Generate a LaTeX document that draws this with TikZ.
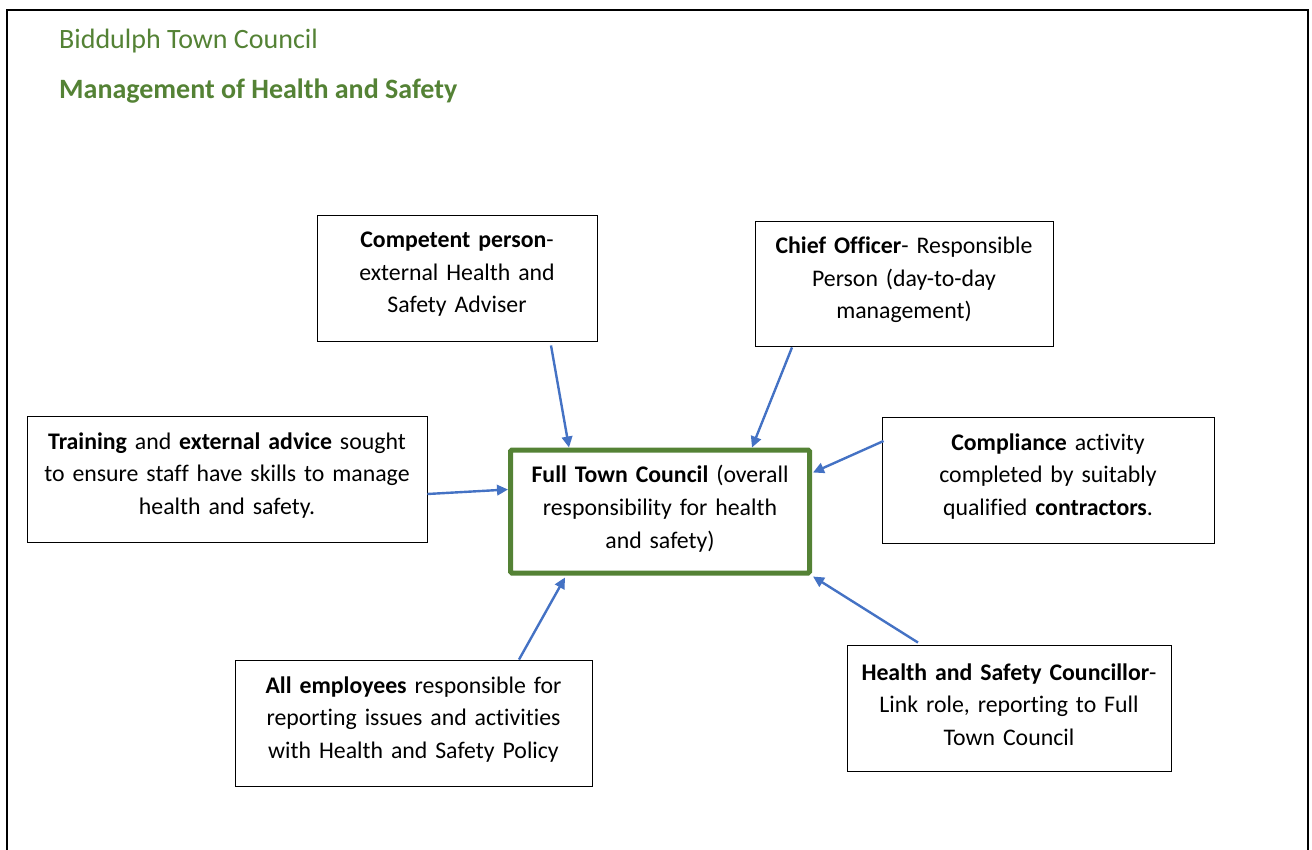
\documentclass[tikz,border=0pt]{standalone}
\usepackage{fontspec}
\setmainfont{Carlito}[Ligatures=NoCommon]
\usetikzlibrary{arrows.meta}
\definecolor{LeafGreen}{RGB}{84,130,53}
\definecolor{LinkBlue}{RGB}{68,114,196}
\tikzset{
  role/.style={draw=black,line width=0.9pt,fill=white,align=center,
    inner sep=0pt,font=\fontsize{23.8}{32.5}\selectfont,
    execute at end node={\par\vspace*{7pt}}},
  council/.style={draw=LeafGreen,line width=5pt,rounded corners=1.5pt,fill=white,align=center,
    inner sep=0pt,minimum width=299pt,minimum height=123pt,text width=290pt,
    font=\fontsize{23.8}{33}\selectfont,execute at end node={\par\vspace*{5pt}}},
  heading/.style={anchor=base west,inner sep=0pt,text=LeafGreen},
  arrow/.style={-{Triangle[length=11pt,width=10.5pt]},line width=2.4pt,LinkBlue}
}

\begin{document}
\begin{tikzpicture}[x=1pt,y=-1pt]
  \useasboundingbox (0,0) rectangle (1312,850);
  \draw[line width=1.4pt] (7,850) -- (7,10) -- (1308,10) -- (1308,850);
  \node[heading,font=\fontsize{28}{32}\selectfont] (town) at (59,49) {Biddulph Town Council};
  \node[heading,font=\fontsize{28}{32}\selectfont\bfseries] (mgmt) at (59,99) {Management of Health and Safety};

  \node[council] (ftc) at (660,511.5) {\textbf{Full Town Council} (overall\\responsibility for health\\and safety)};
  \node[role,minimum width=280pt,minimum height=126pt,text width=274pt] (person) at (457,278)
    {\textbf{Competent person}-\\external Health and\\Safety Adviser};
  \node[role,minimum width=298pt,minimum height=125pt,text width=292pt] (chief) at (904,283.5)
    {\textbf{Chief Officer}- Responsible\\Person (day-to-day\\management)};
  \node[role,minimum width=400pt,minimum height=126pt,text width=394pt] (training) at (227,479)
    {\textbf{Training} and \textbf{external advice} sought\\to ensure staff have skills to manage\\health and safety.};
  \node[role,minimum width=332pt,minimum height=126pt,text width=326pt] (compliance) at (1048,480)
    {\textbf{Compliance} activity\\completed by suitably\\qualified \textbf{contractors}.};
  \node[role,minimum width=357pt,minimum height=126pt,text width=351pt] (staff) at (413.5,723)
    {\textbf{All employees} responsible for\\reporting issues and activities\\with Health and Safety Policy};
  \node[role,minimum width=324pt,minimum height=126pt,text width=318pt] (councillor) at (1009,708)
    {\textbf{Health and Safety Councillor}-\\Link role, reporting to Full\\Town Council};

  \draw[arrow] ([xshift=94pt,yshift=-4pt]person.south) -- ([xshift=-91pt]ftc.north);
  \draw[arrow] ([xshift=-112pt,yshift=-1pt]chief.south) -- ([xshift=92pt]ftc.north);
  \draw[arrow] ([yshift=-15pt]training.east) -- ([yshift=22pt]ftc.west);
  \draw[arrow] ([xshift=2pt,yshift=39pt]compliance.west) -- ([xshift=1pt,yshift=39pt]ftc.east);
  \draw[arrow] ([xshift=105.5pt]staff.north) -- ([xshift=-95pt,yshift=-2pt]ftc.south);
  \draw[arrow] ([xshift=-91pt,yshift=2pt]councillor.north) -- ([xshift=1pt,yshift=-1pt]ftc.south east);
\end{tikzpicture}
\end{document}
